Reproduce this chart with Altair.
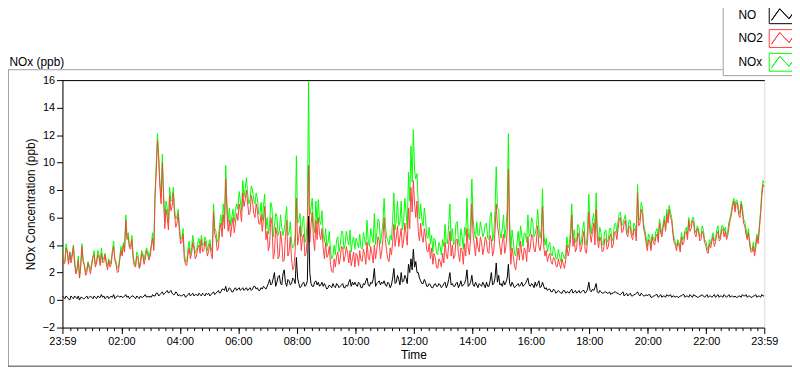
import altair as alt
import pandas as pd

FONT = "Liberation Sans"

# sample times: minutes after 23:59 of the previous day
minutes = list(range(0, 1441, 5))             # on the 5-minute marks
minutes_mid = [m + 2.5 for m in range(0, 1440, 5)]  # half-way samples

# one row per hour of the day
no2 = [
    3.6, 2.7, 3.4, 3.5, 3.2, 2.6, 2.2, 1.6, 3.9, 2.5, 2.0, 2.3,
    2.5, 3.3, 2.7, 3.1, 3.4, 2.8, 2.6, 2.9, 2.6, 3.9, 2.6, 2.1,
    3.6, 4.0, 5.8, 4.6, 3.7, 3.0, 2.4, 3.1, 2.5, 3.2, 3.0, 3.3,
    3.2, 4.5, 7.5, 11.6, 8.2, 10.0, 5.2, 6.0, 7.6, 6.8, 6.2, 5.6,
    5.0, 4.2, 3.0, 2.5, 3.8, 3.4, 3.7, 3.2, 4.0, 4.4, 3.6, 3.8,
    3.6, 3.4, 6.4, 4.5, 3.8, 5.6, 6.2, 8.8, 5.0, 4.6, 6.0, 5.6,
    5.8, 6.5, 7.8, 7.3, 7.0, 6.4, 7.2, 6.0, 6.5, 5.5, 5.0, 6.8,
    5.0, 4.0, 5.5, 3.4, 4.8, 3.2, 4.2, 2.9, 5.8, 3.5, 3.0, 2.4,
    7.4, 4.6, 3.6, 4.8, 3.4, 9.8, 5.5, 4.5, 5.8, 6.0, 4.4, 3.8,
    4.2, 3.3, 2.6, 2.0, 2.4, 3.5, 3.0, 3.8, 3.2, 3.4, 3.6, 3.0,
    2.4, 3.2, 3.6, 2.8, 3.3, 4.2, 2.9, 3.4, 4.0, 3.7, 4.3, 3.5,
    6.0, 3.6, 2.8, 3.3, 5.5, 4.6, 3.9, 5.2, 4.3, 4.8, 6.7, 8.2,
    8.7, 6.0, 5.0, 5.6, 4.2, 4.6, 3.5, 3.0, 2.6, 3.1, 2.3, 2.8,
    3.4, 4.2, 3.0, 5.0, 4.0, 3.2, 4.4, 2.8, 3.6, 4.1, 5.2, 3.3,
    7.0, 4.0, 4.6, 3.5, 4.2, 3.8, 4.3, 3.4, 4.4, 3.6, 7.0, 4.8,
    3.3, 4.8, 3.9, 9.5, 2.6, 3.2, 2.2, 3.8, 4.3, 2.9, 3.6, 4.6,
    3.8, 4.6, 3.5, 5.4, 3.6, 6.8, 3.2, 2.8, 3.4, 2.6, 3.0, 2.4,
    2.6, 3.0, 2.3, 4.0, 3.6, 6.2, 4.5, 3.8, 4.6, 3.7, 5.0, 3.4,
    6.4, 4.2, 5.6, 6.6, 3.8, 4.3, 3.6, 4.5, 3.9, 4.8, 4.0, 5.0,
    5.2, 6.0, 5.0, 5.8, 4.6, 5.3, 4.4, 5.0, 7.8, 5.6, 6.3, 4.8,
    3.6, 4.2, 4.6, 4.0, 4.8, 5.6, 4.6, 5.8, 6.2, 6.6, 5.8, 4.2,
    3.6, 4.0, 4.6, 4.2, 5.0, 5.8, 5.2, 5.6, 4.6, 5.0, 4.4, 4.8,
    4.0, 3.4, 3.8, 4.6, 4.2, 5.0, 4.4, 5.2, 5.0, 4.7, 5.8, 6.8,
    6.4, 7.0, 6.0, 6.4, 5.4, 4.4, 4.0, 3.5, 3.2, 4.6, 5.2, 7.6, 8.2,
]
no2_mid = [
    2.6, 3.8, 2.6, 2.7, 3.9, 1.9, 2.9, 2.4, 2.8, 1.8, 2.7, 1.9,
    3.1, 2.4, 3.3, 2.5, 2.7, 3.3, 2.2, 2.4, 3.4, 2.9, 2.0, 2.9,
    3.2, 3.5, 4.4, 3.8, 4.4, 2.5, 3.2, 2.3, 3.4, 2.6, 3.6, 2.9,
    3.9, 3.6, 9.4, 10.2, 7.0, 7.4, 6.6, 5.1, 6.5, 7.8, 5.3, 6.3,
    4.1, 4.8, 2.6, 3.3, 3.0, 4.2, 3.0, 3.8, 3.4, 3.5, 4.3, 3.2,
    4.1, 3.0, 4.8, 3.6, 5.0, 4.6, 5.2, 6.4, 5.8, 5.4, 4.9, 6.3,
    7.0, 5.7, 6.8, 8.0, 6.2, 7.6, 6.3, 7.0, 5.6, 6.2, 5.9, 4.4,
    3.6, 6.0, 3.0, 5.3, 3.0, 5.0, 2.8, 4.6, 3.2, 4.6, 2.2, 3.6,
    4.0, 5.4, 4.5, 3.2, 4.6, 4.2, 6.4, 3.6, 4.4, 4.8, 5.2, 3.0,
    3.1, 3.9, 2.1, 3.0, 3.2, 2.6, 3.9, 2.8, 3.9, 2.7, 2.5, 3.5,
    3.4, 2.5, 2.9, 3.7, 2.6, 3.1, 3.9, 2.7, 3.0, 4.6, 3.0, 4.4,
    4.4, 3.0, 3.8, 4.2, 3.9, 5.4, 4.6, 3.8, 5.6, 4.0, 5.2, 6.4,
    7.0, 7.2, 4.3, 4.6, 5.2, 3.6, 4.1, 3.8, 3.4, 2.4, 3.0, 2.4,
    2.7, 3.3, 4.0, 3.2, 3.0, 4.4, 3.4, 3.8, 2.6, 3.2, 3.8, 4.5,
    4.8, 3.2, 3.8, 4.6, 3.3, 4.6, 3.5, 4.7, 3.2, 5.0, 5.4, 3.9,
    4.2, 3.4, 5.0, 4.6, 3.8, 2.5, 3.0, 2.9, 3.4, 3.8, 2.8, 3.5,
    4.8, 3.7, 4.3, 3.9, 4.2, 3.9, 3.6, 3.2, 2.8, 3.1, 2.5, 3.0,
    2.3, 2.6, 2.9, 3.2, 4.4, 3.9, 3.5, 4.9, 3.5, 4.5, 3.6, 4.4,
    4.8, 5.0, 4.0, 4.5, 4.6, 3.5, 4.4, 3.7, 4.6, 3.8, 4.9, 4.4,
    5.9, 4.9, 5.6, 4.8, 5.4, 4.6, 5.2, 4.3, 5.4, 6.6, 5.2, 4.2,
    4.4, 3.6, 4.2, 4.6, 4.2, 4.9, 5.3, 5.0, 5.6, 6.0, 4.8, 4.0,
    4.2, 3.5, 4.0, 4.9, 4.4, 5.0, 5.8, 4.8, 5.2, 4.3, 5.0, 4.2,
    3.5, 4.1, 4.3, 3.9, 4.8, 4.3, 5.1, 4.6, 4.4, 5.3, 6.2, 7.2,
    7.1, 6.2, 7.0, 5.6, 4.8, 4.9, 3.5, 3.9, 3.8, 4.1, 6.3, 8.4,
]

no = [
    0.3, 0.1, 0.2, 0.0, 0.2, 0.3, 0.1, 0.0, 0.2, 0.1, 0.3, 0.2,
    0.2, 0.3, 0.1, 0.2, 0.4, 0.3, 0.2, 0.1, 0.3, 0.4, 0.2, 0.3,
    0.3, 0.2, 0.4, 0.3, 0.2, 0.3, 0.1, 0.2, 0.3, 0.2, 0.4, 0.3,
    0.3, 0.4, 0.3, 0.5, 0.4, 0.6, 0.5, 0.7, 0.6, 0.5, 0.4, 0.5,
    0.4, 0.3, 0.4, 0.3, 0.5, 0.4, 0.3, 0.4, 0.5, 0.3, 0.4, 0.5,
    0.5, 0.4, 0.6, 0.5, 0.7, 0.6, 0.8, 1.0, 0.7, 0.8, 0.6, 0.9,
    0.8, 0.7, 0.9, 0.8, 0.7, 0.9, 0.8, 1.0, 0.9, 0.7, 0.8, 0.9,
    1.0, 1.5, 1.2, 2.0, 1.3, 1.8, 1.1, 2.2, 1.0, 1.4, 1.2, 1.5,
    3.1, 1.2, 1.0, 1.3, 1.1, 6.1, 1.2, 1.0, 1.4, 1.3, 1.1, 1.0,
    1.0, 0.9, 1.0, 1.2, 0.9, 1.1, 1.0, 1.2, 0.9, 1.0, 1.5, 1.3,
    1.3, 1.0, 1.2, 0.9, 1.1, 1.6, 1.0, 1.2, 2.3, 1.2, 1.4, 1.3,
    1.4, 1.0, 1.2, 1.1, 2.3, 1.3, 1.5, 2.0, 1.4, 1.6, 2.6, 3.0,
    3.7, 2.8, 2.0, 1.4, 1.2, 1.3, 1.0, 1.1, 0.9, 1.2, 1.0, 1.1,
    1.0, 1.3, 1.1, 2.0, 1.2, 1.0, 1.3, 1.1, 1.0, 1.2, 2.2, 1.1,
    1.8, 1.0, 1.1, 1.2, 1.0, 1.1, 1.3, 1.0, 2.0, 1.2, 2.7, 1.8,
    1.2, 1.4, 1.3, 2.6, 1.0, 1.1, 1.0, 1.2, 1.1, 1.0, 1.2, 1.6,
    1.0, 1.1, 1.3, 1.2, 0.9, 1.3, 0.8, 0.7, 0.8, 0.6, 0.7, 0.6,
    0.6, 0.5, 0.7, 0.6, 0.5, 0.8, 0.6, 0.5, 0.7, 0.6, 0.7, 0.6,
    1.3, 0.6, 0.7, 1.2, 0.5, 0.6, 0.5, 0.6, 0.5, 0.4, 0.5, 0.6,
    0.5, 0.4, 0.6, 0.4, 0.3, 0.5, 0.3, 0.4, 0.6, 0.3, 0.4, 0.3,
    0.3, 0.4, 0.2, 0.3, 0.4, 0.3, 0.2, 0.3, 0.4, 0.3, 0.2, 0.3,
    0.3, 0.2, 0.3, 0.4, 0.3, 0.2, 0.3, 0.4, 0.3, 0.2, 0.3, 0.3,
    0.3, 0.2, 0.3, 0.3, 0.2, 0.4, 0.3, 0.2, 0.3, 0.3, 0.2, 0.3,
    0.3, 0.2, 0.3, 0.4, 0.3, 0.2, 0.3, 0.2, 0.3, 0.2, 0.3, 0.4, 0.3,
]
no_mid = [
    0.2, 0.3, 0.1, 0.3, 0.1, 0.2, 0.3, 0.2, 0.1, 0.2, 0.1, 0.3,
    0.1, 0.2, 0.3, 0.2, 0.2, 0.1, 0.3, 0.2, 0.2, 0.1, 0.3, 0.2,
    0.2, 0.3, 0.2, 0.1, 0.3, 0.2, 0.3, 0.1, 0.2, 0.3, 0.2, 0.2,
    0.2, 0.3, 0.5, 0.3, 0.5, 0.4, 0.6, 0.5, 0.7, 0.4, 0.6, 0.3,
    0.3, 0.4, 0.2, 0.4, 0.3, 0.5, 0.4, 0.3, 0.4, 0.5, 0.3, 0.4,
    0.3, 0.5, 0.4, 0.6, 0.5, 0.8, 0.7, 0.6, 0.9, 0.6, 0.8, 0.7,
    0.9, 0.8, 0.7, 0.9, 0.8, 0.7, 1.0, 0.8, 0.7, 0.9, 1.0, 0.8,
    1.2, 1.1, 1.6, 1.0, 1.7, 1.2, 1.9, 1.3, 1.5, 1.1, 1.6, 1.2,
    1.6, 0.9, 1.2, 1.0, 1.4, 2.0, 1.0, 1.3, 1.1, 1.0, 1.3, 1.2,
    0.8, 1.1, 0.9, 1.0, 1.2, 0.9, 1.1, 0.9, 1.1, 1.3, 1.0, 1.1,
    1.1, 1.3, 0.9, 1.2, 1.4, 1.1, 1.3, 1.5, 1.0, 1.3, 1.1, 1.2,
    1.1, 1.3, 0.9, 1.6, 1.2, 1.8, 1.1, 1.3, 1.8, 1.2, 2.0, 2.2,
    2.4, 2.0, 1.6, 1.2, 1.5, 1.0, 1.2, 0.9, 1.1, 1.0, 1.2, 0.9,
    1.2, 0.9, 1.5, 1.1, 1.0, 1.2, 0.9, 1.4, 1.1, 1.5, 1.0, 1.3,
    1.1, 1.3, 0.9, 1.1, 1.3, 0.9, 1.0, 1.4, 1.1, 1.6, 1.3, 1.1,
    1.0, 1.1, 1.6, 1.2, 1.3, 0.9, 1.1, 1.0, 1.3, 1.1, 1.4, 1.1,
    1.2, 0.9, 1.0, 1.4, 1.0, 1.0, 0.9, 0.8, 0.6, 0.8, 0.5, 0.7,
    0.5, 0.7, 0.5, 0.6, 0.7, 0.5, 0.7, 0.6, 0.5, 0.7, 0.5, 0.8,
    0.7, 0.8, 0.9, 0.6, 0.7, 0.5, 0.6, 0.5, 0.6, 0.5, 0.6, 0.5,
    0.4, 0.5, 0.3, 0.5, 0.4, 0.3, 0.4, 0.5, 0.4, 0.5, 0.3, 0.4,
    0.4, 0.2, 0.3, 0.4, 0.2, 0.4, 0.3, 0.2, 0.3, 0.4, 0.3, 0.2,
    0.2, 0.3, 0.4, 0.2, 0.3, 0.4, 0.2, 0.3, 0.2, 0.3, 0.4, 0.2,
    0.4, 0.3, 0.2, 0.4, 0.3, 0.2, 0.3, 0.4, 0.2, 0.4, 0.3, 0.2,
    0.2, 0.3, 0.2, 0.3, 0.4, 0.3, 0.2, 0.3, 0.4, 0.3, 0.2, 0.3,
]

nox = [
    3.9, 2.8, 3.6, 3.5, 3.4, 2.9, 2.3, 1.6, 4.1, 2.6, 2.3, 2.5,
    2.7, 3.6, 2.8, 3.3, 3.8, 3.1, 2.8, 3.0, 2.9, 4.3, 2.8, 2.4,
    3.9, 4.2, 6.2, 4.9, 3.9, 3.3, 2.5, 3.3, 2.8, 3.4, 3.4, 3.6,
    3.5, 4.9, 7.8, 12.1, 8.6, 10.6, 5.7, 6.7, 8.2, 7.3, 6.6, 6.1,
    5.4, 4.5, 3.4, 2.8, 4.3, 3.8, 4.0, 3.6, 4.5, 4.7, 4.0, 4.3,
    4.1, 3.8, 7.0, 5.0, 4.5, 6.2, 7.0, 9.8, 5.7, 5.4, 6.6, 6.5,
    6.6, 7.2, 8.7, 8.1, 7.7, 7.3, 8.0, 7.0, 7.4, 6.2, 5.8, 7.7,
    6.0, 5.5, 6.7, 5.4, 6.1, 5.0, 5.3, 5.1, 6.8, 4.9, 4.2, 3.9,
    10.5, 5.8, 4.6, 6.1, 4.5, 15.9, 6.7, 5.5, 7.2, 7.3, 5.5, 4.8,
    5.2, 4.2, 3.6, 3.2, 3.3, 4.6, 4.0, 5.0, 4.1, 4.4, 5.1, 4.3,
    3.7, 4.2, 4.8, 3.7, 4.4, 5.8, 3.9, 4.6, 6.3, 4.9, 5.7, 4.8,
    7.4, 4.6, 4.0, 4.4, 7.8, 5.9, 5.4, 7.2, 5.7, 6.4, 9.3, 11.2,
    12.4, 8.8, 7.0, 7.0, 5.4, 5.9, 4.5, 4.1, 3.5, 4.3, 3.3, 3.9,
    4.4, 5.5, 4.1, 7.0, 5.2, 4.2, 5.7, 3.9, 4.6, 5.3, 7.4, 4.4,
    8.8, 5.0, 5.7, 4.7, 5.2, 4.9, 5.6, 4.4, 6.4, 4.8, 9.7, 6.6,
    4.5, 6.2, 5.2, 12.1, 3.6, 4.3, 3.2, 5.0, 5.4, 3.9, 4.8, 6.2,
    4.8, 5.7, 4.8, 6.6, 4.5, 8.1, 4.0, 3.5, 4.2, 3.2, 3.7, 3.0,
    3.2, 3.5, 3.0, 4.6, 4.1, 7.0, 5.1, 4.3, 5.3, 4.3, 5.7, 4.0,
    7.7, 4.8, 6.3, 7.8, 4.3, 4.9, 4.1, 5.1, 4.4, 5.2, 4.5, 5.6,
    5.7, 6.4, 5.6, 6.2, 4.9, 5.8, 4.7, 5.4, 8.4, 5.9, 6.7, 5.1,
    3.9, 4.6, 4.8, 4.3, 5.2, 5.9, 4.8, 6.1, 6.6, 6.9, 6.0, 4.5,
    3.9, 4.2, 4.9, 4.6, 5.3, 6.0, 5.5, 6.0, 4.9, 5.2, 4.7, 5.1,
    4.3, 3.6, 4.1, 4.9, 4.4, 5.4, 4.7, 5.4, 5.3, 5.0, 6.0, 7.1,
    6.7, 7.2, 6.3, 6.8, 5.7, 4.6, 4.3, 3.7, 3.5, 4.8, 5.5, 8.0, 8.5,
]
nox_mid = [
    2.8, 4.1, 2.7, 3.0, 4.0, 2.1, 3.2, 2.6, 2.9, 2.0, 2.8, 2.2,
    3.2, 2.6, 3.6, 2.7, 2.9, 3.4, 2.5, 2.6, 3.6, 3.0, 2.3, 3.1,
    3.4, 3.8, 4.6, 3.9, 4.7, 2.7, 3.5, 2.4, 3.6, 2.9, 3.8, 3.1,
    4.1, 3.9, 9.9, 10.5, 7.5, 7.8, 7.2, 5.6, 7.2, 8.2, 5.9, 6.6,
    4.4, 5.2, 2.8, 3.7, 3.3, 4.7, 3.4, 4.1, 3.8, 4.0, 4.6, 3.6,
    4.4, 3.5, 5.2, 4.2, 5.5, 5.4, 5.9, 7.0, 6.7, 6.0, 5.7, 7.0,
    7.9, 6.5, 7.5, 8.9, 7.0, 8.3, 7.3, 7.8, 6.3, 7.1, 6.9, 5.2,
    4.8, 7.1, 4.6, 6.3, 4.7, 6.2, 4.7, 5.9, 4.7, 5.7, 3.8, 4.8,
    5.6, 6.3, 5.7, 4.2, 6.0, 6.2, 7.4, 4.9, 5.5, 5.8, 6.5, 4.2,
    3.9, 5.0, 3.0, 4.0, 4.4, 3.5, 5.0, 3.7, 5.0, 4.0, 3.5, 4.6,
    4.5, 3.8, 3.8, 4.9, 4.0, 4.2, 5.2, 4.2, 4.0, 5.9, 4.1, 5.6,
    5.5, 4.3, 4.7, 5.8, 5.1, 7.2, 5.7, 5.1, 7.4, 5.2, 7.2, 8.6,
    9.4, 9.2, 5.9, 5.8, 6.7, 4.6, 5.3, 4.7, 4.5, 3.4, 4.2, 3.3,
    3.9, 4.2, 5.5, 4.3, 4.0, 5.6, 4.3, 5.2, 3.7, 4.7, 4.8, 5.8,
    5.9, 4.5, 4.7, 5.7, 4.6, 5.5, 4.5, 6.1, 4.3, 6.6, 6.7, 5.0,
    5.2, 4.5, 6.6, 5.8, 5.1, 3.4, 4.1, 3.9, 4.7, 4.9, 4.2, 4.6,
    6.0, 4.6, 5.3, 5.3, 5.2, 4.9, 4.5, 4.0, 3.4, 3.9, 3.0, 3.7,
    2.8, 3.3, 3.4, 3.8, 5.1, 4.4, 4.2, 5.5, 4.0, 5.2, 4.1, 5.2,
    5.5, 5.8, 4.9, 5.1, 5.3, 4.0, 5.0, 4.2, 5.2, 4.3, 5.5, 4.9,
    6.3, 5.4, 5.9, 5.3, 5.8, 4.9, 5.6, 4.8, 5.8, 7.1, 5.5, 4.6,
    4.8, 3.8, 4.5, 5.0, 4.4, 5.3, 5.6, 5.2, 5.9, 6.4, 5.1, 4.2,
    4.4, 3.8, 4.4, 5.1, 4.7, 5.4, 6.0, 5.1, 5.4, 4.6, 5.4, 4.4,
    3.9, 4.4, 4.5, 4.3, 5.1, 4.5, 5.4, 5.0, 4.6, 5.7, 6.5, 7.4,
    7.3, 6.5, 7.2, 5.9, 5.2, 5.2, 3.7, 4.2, 4.2, 4.4, 6.5, 8.7,
]

series_names = ["NO", "NO2", "NOx"]
series_colors = ["#000000", "#ff4040", "#00ff00"]

x_tick_values = [0, 121, 241, 361, 481, 601, 721, 841, 961, 1081, 1201, 1321, 1440]
x_tick_labels = ["23:59", "02:00", "04:00", "06:00", "08:00", "10:00", "12:00",
                 "14:00", "16:00", "18:00", "20:00", "22:00", "23:59"]
x_minor_ticks = list(range(16, 1440, 15))
y_tick_values = [-2, 0, 2, 4, 6, 8, 10, 12, 14, 16]

rows = []
for name, vals, mids in zip(series_names, [no, no2, nox], [no_mid, no2_mid, nox_mid]):
    for t, v in zip(minutes, vals):
        rows.append({"t": t, "value": v, "series": name})
    for t, v in zip(minutes_mid, mids):
        rows.append({"t": t, "value": v, "series": name})
df = pd.DataFrame(rows).sort_values(["series", "t"]).reset_index(drop=True)

label_expr = "[{}][indexof([{}], datum.value)]".format(
    ",".join("'%s'" % s for s in x_tick_labels),
    ",".join(str(v) for v in x_tick_values),
)

x_scale = alt.Scale(domain=[0, 1440], nice=False, zero=False)
y_scale = alt.Scale(domain=[-2, 16], nice=False, zero=False)

x_axis = alt.Axis(
    values=x_tick_values, labelExpr=label_expr, title="Time", orient="bottom",
    grid=False, tickSize=6, tickColor="black", domainColor="black",
    labelPadding=2, labelFontSize=11, labelFont=FONT, labelColor="black",
    labelFlush=False, labelOverlap=False, titleFont=FONT, titleFontSize=12,
    titleFontWeight="normal", titleColor="black", titlePadding=3,
)
x_minor_axis = alt.Axis(
    values=x_minor_ticks, labels=False, title=None, orient="bottom", grid=False,
    domain=False, tickSize=3, tickColor="black",
)
x_top_axis = alt.Axis(
    labels=False, ticks=False, orient="top", grid=False, domainColor="black",
    title="NOx (ppb)", titleX=-54, titleY=-15, titleAngle=0, titleAlign="left",
    titleBaseline="alphabetic", titleFont=FONT, titleFontSize=12,
    titleFontWeight="normal", titleColor="black",
)
y_axis = alt.Axis(
    values=y_tick_values, title="NOx Concentration (ppb)", grid=False,
    tickSize=6, tickColor="black", domainColor="black", labelPadding=2,
    labelFontSize=11, labelFont=FONT, labelColor="black", labelFlush=False,
    titleFont=FONT, titleFontSize=12, titleFontWeight="normal",
    titleColor="black", titlePadding=5,
)

# legend symbol (pixel units, symbolSize 4 -> scale 1): a framed zig-zag sample
# placed to the right of the label, as in the reference legend
legend_symbol = ("M39,-9L69,-9L69,9L39,9Z "
                 "M41.3,5.6L49.6,-6L59,4L67.6,-7.7L59,4L49.6,-6Z")

color_legend = alt.Legend(
    title=None, orient="none", legendX=667, legendY=-74, direction="vertical",
    symbolType=legend_symbol, symbolSize=4, symbolStrokeWidth=1,
    symbolFillColor="transparent", labelOffset=2, labelFont=FONT,
    labelFontSize=12, labelColor="black", padding=2, rowPadding=2,
    strokeColor="#a0a0a0", fillColor="white",
)

color_scale = alt.Scale(domain=series_names, range=series_colors)


def series_layer(name, axis):
    return alt.Chart(df).transform_filter(alt.datum.series == name).mark_line(
        strokeWidth=1, clip=True
    ).encode(
        x=alt.X("t:Q", scale=x_scale, axis=axis),
        y=alt.Y("value:Q", scale=y_scale, axis=y_axis),
        color=alt.Color("series:N", scale=color_scale, legend=color_legend),
    )


minor_layer = alt.Chart(pd.DataFrame({"t": x_minor_ticks})).mark_point(opacity=0).encode(
    x=alt.X("t:Q", scale=x_scale, axis=x_minor_axis)
)
top_layer = alt.Chart(pd.DataFrame({"t": [0]})).mark_point(opacity=0).encode(
    x=alt.X("t:Q", scale=x_scale, axis=x_top_axis)
)

frame_color = "#a0a0a0"
frame_top = alt.Chart().mark_rule(color=frame_color).encode(
    x=alt.value(-55), x2=alt.value(667), y=alt.value(-10.5))
frame_left = alt.Chart().mark_rule(color=frame_color).encode(
    x=alt.value(-54.5), y=alt.value(-10.5), y2=alt.value(289))
frame_bottom = alt.Chart().mark_rule(color="#404040").encode(
    x=alt.value(-55), x2=alt.value(737), y=alt.value(289))

chart = alt.layer(
    frame_top, frame_left, frame_bottom,
    series_layer("NOx", x_axis),
    series_layer("NO2", None),
    series_layer("NO", None),
    minor_layer,
    top_layer,
).resolve_axis(x="independent").properties(
    width=709,
    height=250,
    padding={"left": 55, "top": 71, "right": 28, "bottom": 40},
    autosize=alt.AutoSizeParams(type="none"),
).configure_view(stroke="#808080").configure(background="white")

chart.save("out.html", embed_options={"renderer": "svg", "actions": False})
